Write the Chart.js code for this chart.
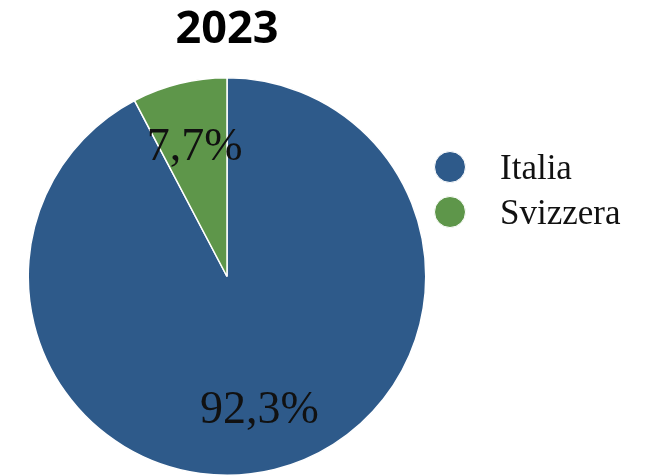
<!DOCTYPE html>
<html>
<head>
<meta charset="utf-8">
<script src="https://cdn.jsdelivr.net/npm/chart.js@4/dist/chart.umd.min.js"></script>
<style>
  html, body { margin: 0; padding: 0; background: #ffffff; }
  #wrap { width: 649px; height: 476px; position: relative; }
</style>
</head>
<body>
<div id="wrap"><canvas id="c" width="649" height="476"></canvas></div>
<script>
const titleText = '2023';
const categories = ['Italia', 'Svizzera'];
const shares = [92.3, 7.7];
const sliceColors = ['#2E5A8A', '#5E964A'];

const fmt = v => v.toFixed(1).replace('.', ',') + '%';

const labelPlugin = {
  id: 'sliceLabels',
  afterDatasetsDraw(chart) {
    const ctx = chart.ctx;
    const meta = chart.getDatasetMeta(0);
    ctx.save();
    ctx.font = '46px "Liberation Serif", "Times New Roman", serif';
    ctx.fillStyle = '#111111';
    ctx.textAlign = 'center';
    ctx.textBaseline = 'middle';
    meta.data.forEach((arc, i) => {
      const p = arc.getProps(['x', 'y', 'startAngle', 'endAngle', 'outerRadius'], true);
      const mid = (p.startAngle + p.endAngle) / 2;
      const r = p.outerRadius * 0.68;
      ctx.fillText(fmt(chart.data.datasets[0].data[i]), p.x + Math.cos(mid) * r, p.y + Math.sin(mid) * r + 3);
    });
    ctx.restore();
  },
  afterDraw(chart) {
    const ctx = chart.ctx;
    const area = chart.chartArea;
    ctx.save();
    // title
    ctx.font = 'bold 45px "Open Sans", "Noto Sans", sans-serif';
    ctx.fillStyle = '#000000';
    ctx.textAlign = 'center';
    ctx.textBaseline = 'middle';
    ctx.fillText(titleText, (area.left + area.right) / 2, 30);
    // legend
    const ds = chart.data.datasets[0];
    ctx.font = '35px "Liberation Serif", "Times New Roman", serif';
    ctx.textAlign = 'left';
    chart.data.labels.forEach((lab, i) => {
      const cy = 167 + i * 45;
      ctx.beginPath();
      ctx.arc(450, cy, 15.5, 0, Math.PI * 2);
      ctx.fillStyle = ds.backgroundColor[i];
      ctx.fill();
      ctx.lineWidth = 1;
      ctx.strokeStyle = '#ffffff';
      ctx.stroke();
      ctx.fillStyle = '#111111';
      ctx.fillText(lab, 500, cy + 3);
    });
    ctx.restore();
  }
};

new Chart(document.getElementById('c'), {
  type: 'pie',
  data: {
    labels: categories,
    datasets: [{
      data: shares,
      backgroundColor: sliceColors,
      borderColor: '#ffffff',
      borderWidth: 1.5
    }]
  },
  options: {
    responsive: false,
    animation: false,
    devicePixelRatio: 1,
    layout: { padding: { left: 27, top: 77, right: 222, bottom: -2 } },
    plugins: {
      legend: { display: false },
      title: { display: false },
      tooltip: { enabled: false }
    }
  },
  plugins: [labelPlugin]
});
</script>
</body>
</html>
